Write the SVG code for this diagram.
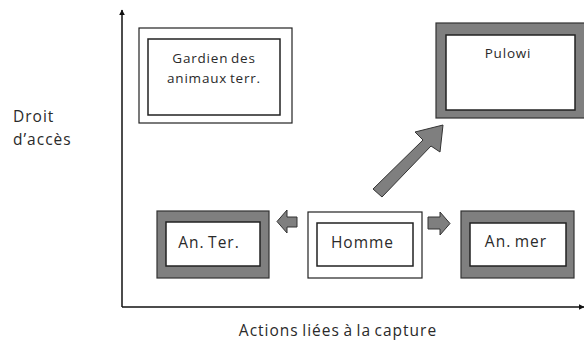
<svg xmlns="http://www.w3.org/2000/svg" width="584" height="341" viewBox="0 0 584 341">
<style>
.t{font-family:"Open Sans","Liberation Sans",Arial,sans-serif;font-size:15.5px;letter-spacing:1px;word-spacing:-1.5px;fill:#2a2a2a}
.s{font-size:13.5px;letter-spacing:0.8px}
.outW{fill:#fff;stroke:#222;stroke-width:1.2}
.outG{fill:#7f7f7f;stroke:#333;stroke-width:1.2}
.in{fill:#fff;stroke:#222;stroke-width:1.5}
.arr{fill:#7f7f7f;stroke:#333;stroke-width:1}
.ax{stroke:#111;stroke-width:1.5;fill:none}
</style>
<defs>
<marker id="ah" viewBox="0 0 10 10" refX="9" refY="5" markerWidth="6" markerHeight="6" orient="auto" markerUnits="userSpaceOnUse"><path d="M0,0 L10,5 L0,10 z" fill="#111"/></marker>
</defs>
<g id="axes">
<path class="ax" d="M122,307 V10" marker-end="url(#ah)"/>
<path class="ax" d="M122,307 H584" marker-end="url(#ah)"/>
</g>
<g id="connectors">
<path class="arr" d="M297,217 H287 V210 L277,221.5 L287,233 V227 H297 Z"/>
<path class="arr" d="M428,217 H440 V212 L450,223.5 L440,235 V229 H428 Z"/>
<path class="arr" d="M373,189 L423,140 L415,132 L443,125 L440,152 L431,146 L382,197 Z"/>
</g>
<g id="gardien">
<rect class="outW" x="139" y="28" width="153" height="95"/>
<rect class="in" x="148" y="39" width="132" height="76"/>
<text class="t s" x="214" y="63" text-anchor="middle">Gardien des</text>
<text class="t s" x="214" y="83" text-anchor="middle">animaux terr.</text>
</g>
<g id="pulowi">
<rect class="outG" x="436" y="23" width="150" height="95"/>
<rect class="in" x="446" y="35" width="129" height="75"/>
<text class="t s" x="508" y="58" text-anchor="middle">Pulowi</text>
</g>
<g id="anter">
<rect class="outG" x="157" y="211" width="112" height="67"/>
<rect class="in" x="166" y="222" width="94" height="44"/>
<text class="t" x="209" y="248" text-anchor="middle">An. Ter.</text>
</g>
<g id="homme">
<rect class="outW" x="308" y="212" width="114" height="66"/>
<rect class="in" x="317" y="223" width="96" height="43"/>
<text class="t" x="362.5" y="248" text-anchor="middle">Homme</text>
</g>
<g id="anmer">
<rect class="outG" x="461" y="211" width="113" height="67"/>
<rect class="in" x="470" y="223" width="96" height="43"/>
<text class="t" x="516" y="247" text-anchor="middle">An. mer</text>
</g>
<g id="labels">
<text class="t" x="13" y="122">Droit</text>
<text class="t" x="13" y="145">d’accès</text>
<text class="t" x="338" y="336" text-anchor="middle">Actions liées à la capture</text>
</g>
</svg>
